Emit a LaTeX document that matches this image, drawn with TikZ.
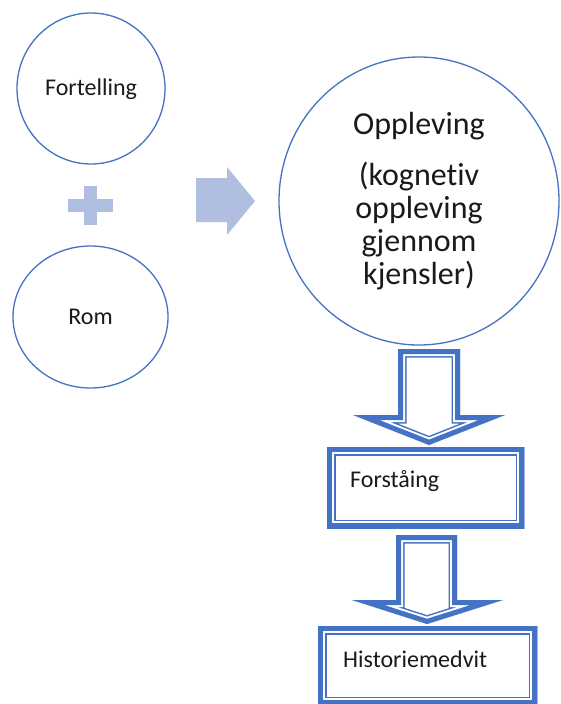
\documentclass[tikz,border=0pt]{standalone}
\usepackage{fontspec}
\setmainfont{Carlito}[Ligatures=NoCommon]
\usetikzlibrary{shapes.geometric}
\definecolor{cblue}{HTML}{4472C4}
\definecolor{lblue}{HTML}{B0BEE2}
\definecolor{ctext}{HTML}{1A1A1A}
\tikzset{
  ring/.style={draw=cblue, line width=1.3pt, ellipse, inner sep=0pt, text=ctext},
  lbl/.style={font=\fontsize{24}{28}\selectfont, text=ctext, inner sep=0pt},
  bigtxt/.style={font=\fontsize{32}{33}\selectfont, align=center},
  softshape/.style={fill=lblue, draw=none},
  boxholder/.style={inner sep=0pt, anchor=north west},
}
\newcommand{\compoundborder}[1]{%
  \begin{scope}
    \clip #1;
    \draw[cblue, line width=17pt, line join=miter, miter limit=20] #1;
    \draw[white, line width=14pt, line join=miter, miter limit=20] #1;
    \draw[cblue, line width=10pt, line join=miter, miter limit=20] #1;
  \end{scope}}
\begin{document}
\begin{tikzpicture}[x=1pt, y=-1pt]
  \useasboundingbox (0,0) rectangle (560,704);
  \clip (0,0) rectangle (560,704);
  \fill[white] (0,0) rectangle (560,704);

  % left circles
  \node[ring, minimum width=148pt, minimum height=151pt] (fort) at (91,88.5) {};
  \node[lbl, anchor=base] (forttxt) at (91,95) {Fortelling};
  \node[ring, minimum width=155pt, minimum height=142pt] (rom) at (90.5,317) {};
  \node[lbl, anchor=base] (romtxt) at (90.5,324) {Rom};

  % plus sign
  \fill[softshape] (68,199) rectangle (113,212);
  \fill[softshape] (84,186) rectangle (97,225);

  % right block arrow
  \fill[softshape] (196,178) -- (227,178) -- (227,167) -- (255,201) -- (227,235) -- (227,222) -- (196,222) -- cycle;

  % big circle
  \node[ring, minimum width=280pt, minimum height=288pt, bigtxt] (opp) at (419,201)
    {Oppleving\\[18pt](kognetiv\\oppleving\\gjennom\\kjensler)};

  % boxes
  \node[boxholder, minimum width=197pt, minimum height=81pt] (forst) at (327,447) {};
  \node[lbl, anchor=base west] (forsttxt) at (350,487) {Forståing};
  \node[boxholder, minimum width=219pt, minimum height=79pt] (hist) at (318,626) {};
  \node[lbl, anchor=base west] (histtxt) at (343,667) {Historiemedvit};

  \compoundborder{(forst.north west) rectangle (forst.south east)}
  \compoundborder{(hist.north west) rectangle (hist.south east)}

  % down arrows
  \compoundborder{(398,349) -- (460,349) -- (460,415) -- (505,415) -- (429,445) -- (353,415) -- (398,415) -- cycle}
  \compoundborder{(396,535) -- (457,535) -- (457,600) -- (503,600) -- (427,624) -- (352,600) -- (396,600) -- cycle}
\end{tikzpicture}
\end{document}
